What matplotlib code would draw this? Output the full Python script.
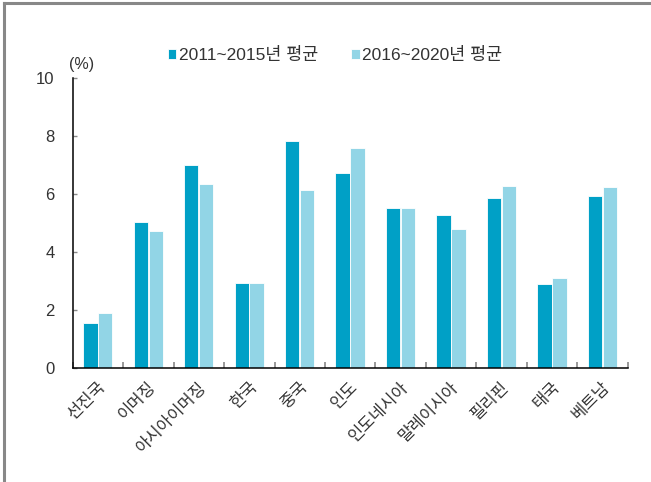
import matplotlib
matplotlib.use('agg')
import matplotlib.pyplot as plt
from matplotlib.lines import Line2D
import numpy as np

plt.rcParams['font.family'] = ['Liberation Sans', 'Noto Sans CJK KR', 'DejaVu Sans']

categories = ['선진국', '이머징', '아시아이머징', '한국', '중국', '인도',
              '인도네시아', '말레이시아', '필리핀', '태국', '베트남']
avg_2011_2015 = [1.55, 5.02, 7.01, 2.94, 7.82, 6.71, 5.52, 5.29, 5.87, 2.89, 5.92]
avg_2016_2020 = [1.91, 4.71, 6.33, 2.93, 6.15, 7.60, 5.51, 4.78, 6.29, 3.09, 6.23]
series_labels = ['2011~2015년 평균', '2016~2020년 평균']
yticks = [0, 2, 4, 6, 8, 10]

dark = '#00A0C6'
light = '#92D5E6'
txt = '#333333'

fig = plt.figure(figsize=(6.51, 4.82), dpi=100)
ax = fig.add_axes([0.1117, 0.2365, 0.8525, 0.6017])

x = np.arange(len(categories))
w = 0.285
ax.bar(x - 0.15, avg_2011_2015, w, color=dark, edgecolor='white', linewidth=0.6,
       label=series_labels[0])
ax.bar(x + 0.145, avg_2016_2020, w, color=light, edgecolor='white', linewidth=0.6,
       label=series_labels[1])

ax.set_xlim(-0.5, len(categories) - 0.5)
ax.set_ylim(0, 10)
ax.set_yticks(yticks)
ax.set_yticklabels([str(v) for v in yticks], fontsize=12, color=txt)

# category boundary ticks on x axis
ax.set_xticks(np.arange(len(categories) + 1) - 0.5)
ax.set_xticklabels([])
ax.set_xticks(x, minor=True)
ax.set_xticklabels(categories, minor=True, rotation=45, ha='right',
                   rotation_mode='anchor', fontsize=12, color=txt)
ax.tick_params(axis='x', which='major', direction='in', length=4, width=1.2, color='#888888')
ax.tick_params(axis='x', which='minor', length=0, pad=8)
ax.tick_params(axis='y', direction='in', length=3, width=1, color='#888888', pad=13)

for s in ['top', 'right']:
    ax.spines[s].set_visible(False)
for s in ['left', 'bottom']:
    ax.spines[s].set_linewidth(1.1)
    ax.spines[s].set_color('black')

fig.text(82 / 651, 1 - 64 / 482, '(%)', ha='center', va='center', fontsize=11.5, color=txt)

leg = ax.legend(loc='center', bbox_to_anchor=(335 / 651, 1 - 55 / 482),
                bbox_transform=fig.transFigure, ncol=2, frameon=False,
                fontsize=12.5, handlelength=0.5, handleheight=0.5, handletextpad=0.15,
                columnspacing=1.9)
for t in leg.get_texts():
    t.set_color(txt)

# gray frame on top and left edges
fig.add_artist(Line2D([3.5 / 651, 1], [1 - 3 / 482, 1 - 3 / 482], color='#888888',
                      linewidth=2.2, transform=fig.transFigure))
fig.add_artist(Line2D([3.5 / 651, 3.5 / 651], [0, 1 - 3 / 482], color='#888888',
                      linewidth=2.2, transform=fig.transFigure))

fig.savefig('out.png', dpi=100)
